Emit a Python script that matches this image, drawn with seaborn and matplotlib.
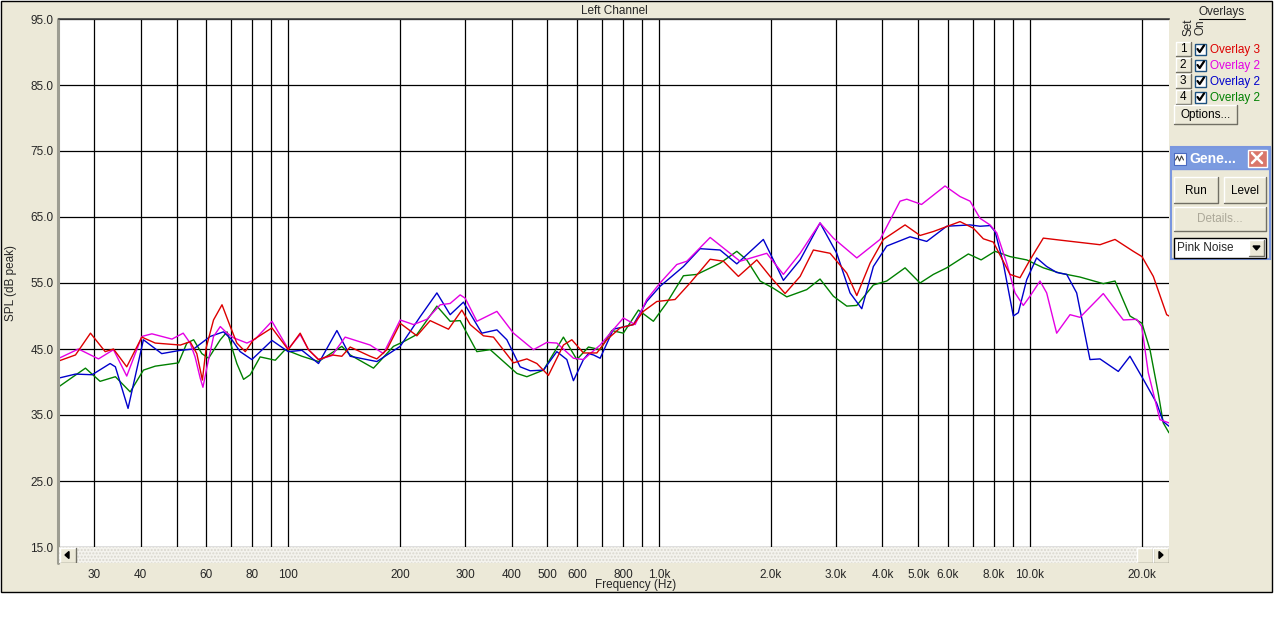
### Bibliotheken
import pandas as pd
import matplotlib
matplotlib.use("Agg")
import matplotlib.pyplot as plt
import matplotlib.patches as mpatches
from matplotlib.ticker import NullLocator
import seaborn as sns


red_freq = [24.1, 26.7, 29.3, 32.1, 33.8, 36.7, 40.3, 43.8, 51.2, 54.4,
            56.7, 58.7, 60.1, 62.9, 66.3, 69.8, 72.7, 76.6, 80.6, 90.4,
            100, 107.7, 113.4, 120.7, 131.2, 139.5, 146.9, 166.3, 173.4, 184.5,
            200.4, 222.3, 241.4, 270.5, 293.9, 309.5, 336.0, 357.6, 404.9, 440.0,
            468.2, 503.0, 552.1, 581.7, 625.2, 679.5, 722.8, 785.1, 852.6, 907,
            986, 1104, 1212, 1373, 1491, 1636, 1834, 1992, 2186, 2400,
            2606, 2891, 3206, 3412, 3705, 4024, 4604, 5052, 5488, 6475,
            7035, 7484, 7964, 8833, 9398, 10000, 10860, 12040, 15440, 16950,
            18990, 20040, 21500, 23360, 23700]
red_spl = [43.2, 44.1, 47.4, 44.6, 45.0, 42.3, 46.8, 45.9, 45.6, 46.1,
           44.3, 40.3, 45.2, 49.4, 51.7, 48.4, 45.9, 44.6, 46.4, 48.2,
           44.9, 47.4, 44.9, 43.4, 44.1, 43.9, 45.3, 43.9, 43.5, 44.9,
           48.9, 47.0, 49.3, 48.0, 50.9, 48.7, 47.0, 46.8, 42.9, 43.5,
           42.8, 41.0, 45.6, 46.4, 44.4, 44.4, 46.4, 48.2, 48.7, 50.7,
           52.2, 52.5, 55.0, 58.6, 58.3, 56.0, 58.5, 56.0, 53.4, 56.0,
           60.0, 59.5, 56.5, 53.1, 58.0, 61.6, 63.8, 62.2, 62.8, 64.3,
           63.3, 61.7, 61.2, 56.3, 55.8, 58.5, 61.8, 61.5, 60.8, 61.6,
           59.8, 59.0, 56.0, 50.2, 50.0]

magenta_freq = [24.1, 27.2, 30.8, 33.8, 36.7, 40.3, 42.9, 48.6, 52.1, 54.4,
                56.1, 57.9, 58.9, 60.4, 62.9, 65.6, 68.4, 71.2, 77.4, 81.5,
                90.4, 100, 107.7, 113.4, 120.7, 131.2, 142.4, 166.3, 180.6, 200.4,
                217.7, 236.5, 256.9, 273.3, 290.8, 300, 322.6, 365.3, 404.9, 458.4,
                498.1, 530.0, 587.5, 625.2, 693.4, 801, 861.6, 926, 1006, 1116,
                1188, 1373, 1653, 1951, 2163, 2400, 2716, 2950, 3412, 3942,
                4463, 4653, 5100, 5900, 6475, 6892, 7333, 7803, 8134, 8653,
                9112, 9592, 10000, 10640, 11090, 11800, 12820, 13640, 15760, 17850,
                19390, 20010, 20840, 22400, 23700]
magenta_spl = [43.6, 45.0, 43.5, 44.9, 40.9, 46.9, 47.3, 46.5, 47.4, 45.9,
               43.8, 40.6, 39.2, 42.3, 46.9, 48.4, 47.4, 46.7, 45.9, 46.5,
               49.2, 45.0, 47.2, 44.9, 43.4, 44.0, 46.8, 45.6, 44.3, 49.4,
               48.7, 49.5, 51.7, 51.9, 53.2, 52.7, 49.2, 50.7, 47.4, 44.9,
               46.0, 45.9, 43.6, 43.4, 45.6, 49.7, 48.7, 52.5, 55.0, 57.8,
               58.3, 61.9, 58.3, 59.5, 56.3, 59.5, 64.1, 61.8, 58.8, 61.6,
               67.4, 67.7, 66.9, 69.7, 68.1, 67.4, 64.8, 63.8, 62.6, 58.0,
               53.5, 51.6, 53.0, 55.3, 53.5, 47.4, 50.2, 49.8, 53.4, 49.4,
               49.5, 48.4, 41.4, 34.3, 33.8]

blue_freq = [24.1, 26.7, 29.6, 33.1, 34.2, 37.0, 40.7, 45.6, 51.2, 55.6,
             61.6, 66.9, 70.5, 74.2, 79.8, 90.4, 100, 108.9, 120.7, 135.3,
             146.9, 173.4, 200.4, 226.9, 251.7, 273.3, 296.8, 332.7, 365.3, 388.6,
             422.0, 449.1, 487.7, 530.0, 563.9, 587.5, 625.2, 645.0, 665.3, 693.4,
             753, 852.6, 926, 1006, 1163, 1290, 1460, 1620, 1910, 2163,
             2400, 2716, 3013, 3272, 3519, 3782, 4109, 4749, 5267, 5963,
             6892, 7333, 7803, 8049, 8472, 9016, 9300, 9797, 10420, 11090,
             11800, 12560, 13360, 14510, 15440, 17300, 18600, 20210, 21950, 22870,
             23700]
blue_spl = [40.6, 41.2, 41.1, 42.8, 42.3, 36.0, 46.4, 44.3, 44.8, 45.0,
            46.9, 47.6, 46.4, 44.6, 43.4, 46.3, 44.6, 44.8, 42.8, 47.8,
            43.9, 43.1, 45.4, 49.9, 53.5, 50.2, 52.1, 47.4, 47.9, 46.4,
            42.3, 41.7, 41.8, 44.6, 43.4, 40.2, 43.4, 44.3, 44.1, 43.6,
            48.0, 48.7, 52.2, 54.5, 57.5, 60.2, 60.0, 57.9, 61.6, 55.4,
            58.5, 64.1, 59.5, 53.5, 51.1, 57.5, 60.6, 62.0, 61.3, 63.6,
            63.8, 63.6, 63.7, 62.8, 58.0, 50.0, 50.5, 55.5, 58.8, 57.5,
            56.6, 56.3, 53.5, 43.4, 43.5, 41.6, 43.9, 40.4, 36.8, 34.0,
            33.3]

green_freq = [24.1, 28.4, 31.1, 34.2, 37.5, 40.7, 43.8, 50.6, 53.3, 55.6,
              58.5, 61.0, 65.6, 68.4, 72.7, 75.8, 79.0, 84.0, 92.3, 98.1,
              108.9, 120.7, 139.5, 146.9, 169.8, 192.2, 204.5, 222.3, 251.7, 273.3,
              290.8, 322.6, 350.4, 413.5, 440.0, 487.7, 552.1, 600.0, 645.0, 693.4,
              745.5, 801, 879.6, 965, 1049, 1163, 1264, 1460, 1620, 1723,
              1872, 2033, 2209, 2501, 2716, 2950, 3206, 3412, 3782, 4109,
              4604, 5052, 5488, 5963, 6820, 7383, 8049, 8833, 9797, 10860,
              12040, 13640, 15760, 16950, 18600, 20040, 21060, 22170, 22870, 23700]
green_spl = [39.3, 42.1, 40.1, 40.8, 38.5, 41.8, 42.4, 42.9, 45.9, 46.4,
             44.3, 43.6, 46.4, 47.6, 42.8, 40.4, 41.1, 43.8, 43.3, 44.9,
             43.9, 43.1, 45.4, 44.1, 42.1, 45.4, 46.1, 47.2, 51.5, 49.2,
             49.3, 44.6, 44.9, 41.3, 40.8, 41.8, 46.8, 43.4, 45.3, 44.9,
             47.8, 47.4, 50.9, 49.2, 52.0, 56.1, 56.3, 58.0, 59.8, 58.5,
             55.3, 54.2, 52.9, 54.0, 55.6, 53.0, 51.5, 51.6, 54.7, 55.3,
             57.3, 55.0, 56.3, 57.3, 59.4, 58.5, 59.8, 59.0, 58.5, 57.3,
             56.5, 55.9, 54.9, 55.3, 50.0, 48.9, 44.9, 38.3, 33.8, 32.3]

set_names = ["1", "2", "3", "4"]
overlay_labels = ["Overlay 3", "Overlay 2", "Overlay 2", "Overlay 2"]
overlay_colors = ["#DD0000", "#E400E4", "#0000CC", "#008000"]

grid_freqs = [30, 40, 50, 60, 70, 80, 90, 100, 200, 300, 400, 500, 600, 700, 800, 900,
              1000, 2000, 3000, 4000, 5000, 6000, 7000, 8000, 9000, 10000, 20000]
grid_labels = ["30", "40", "", "60", "", "80", "", "100", "200", "300", "400", "500", "600",
               "", "800", "", "1.0k", "2.0k", "3.0k", "4.0k", "5.0k", "6.0k", "", "8.0k",
               "", "10.0k", "20.0k"]
spl_ticks = [15, 25, 35, 45, 55, 65, 75, 85, 95]


### Layout-Parameter (Pixel)
W, H = 1274, 637
BEIGE = "#ECE9D8"
TXT = 8.5

sns.set_style("white")
plt.rcParams["font.family"] = ["Liberation Sans", "DejaVu Sans"]
plt.rcParams["font.size"] = TXT


def px_box(x0, y0, x1, y1):
    """Pixelrechteck (oben links Ursprung) -> Figure-Koordinaten"""
    return [x0 / W, 1 - y1 / H, (x1 - x0) / W, (y1 - y0) / H]


def button(axis, x0, y0, x1, y1, text=None, color="black", face=BEIGE, fs=TXT):
    """Zeichnet einen einfachen 3D-Knopf im Windows-Stil"""
    axis.add_patch(mpatches.Rectangle((x0, y0), x1 - x0, y1 - y0, facecolor=face,
                                      edgecolor="none", zorder=3))
    axis.plot([x0, x0, x1], [y1, y0, y0], color="white", lw=1, zorder=4)
    axis.plot([x0, x1, x1], [y1, y1, y0], color="#716F64", lw=1, zorder=4)
    if text is not None:
        axis.text((x0 + x1) / 2, (y0 + y1) / 2 + 0.5, text, ha="center", va="center",
                  color=color, fontsize=fs, zorder=5)


fig = plt.figure(figsize=(W / 100, H / 100), dpi=100, facecolor="white")

# Hintergrund / Fensterrahmen
bg = fig.add_axes([0, 0, 1, 1], zorder=0)
bg.set_xlim(0, W)
bg.set_ylim(H, 0)
bg.axis("off")
bg.add_patch(mpatches.Rectangle((0.5, 0.5), 1271, 591.5, facecolor=BEIGE,
                                edgecolor="black", lw=1))
bg.plot([58, 58], [19, 563], color="#9D9D92", lw=2.2, zorder=2)


### Hauptdiagramm
ax = fig.add_axes(px_box(59, 19, 1169, 547), zorder=2)
ax.set_facecolor("white")
ax.set_xscale("log")

frames = []
for name, f, s in zip(set_names, [red_freq, magenta_freq, blue_freq, green_freq],
                      [red_spl, magenta_spl, blue_spl, green_spl]):
    frames.append(pd.DataFrame({"freq": f, "spl": s, "set": name}))
df = pd.concat(frames, ignore_index=True)

sns.lineplot(data=df, x="freq", y="spl", hue="set", hue_order=["4", "3", "2", "1"],
             palette=dict(zip(set_names, overlay_colors)), estimator=None,
             linewidth=1.0, legend=False, ax=ax)

ax.set_xlim(24.1, 23700)
ax.set_ylim(15, 95)
ax.set_xticks(grid_freqs, grid_labels)
ax.xaxis.set_minor_locator(NullLocator())
ax.set_yticks(spl_ticks, [f"{v:.1f}" for v in spl_ticks])
ax.grid(True, which="major", color="black", linewidth=0.9)
ax.tick_params(axis="x", direction="out", length=15, width=0.8, pad=1.2,
               color="black", labelsize=TXT)
ax.tick_params(axis="y", length=0, pad=4, labelsize=TXT)

for side in ["right", "bottom"]:
    ax.spines[side].set_visible(False)
ax.spines["left"].set_color("#9D9D92")
ax.spines["left"].set_linewidth(1.5)
ax.spines["top"].set_color("#404040")
ax.spines["top"].set_linewidth(1.2)

ax.set_title("Left Channel", fontsize=TXT, pad=3.5)
ax.set_ylabel("SPL (dB peak)", fontsize=TXT)
ax.yaxis.set_label_coords((17 - 59) / 1110, 0.5)
ax.set_xlabel("Frequency (Hz)", fontsize=TXT)
ax.xaxis.set_label_coords((636 - 59) / 1110, -(579 - 547) / 528)


### Scrollbalken unter dem Diagramm
sb = fig.add_axes(px_box(59, 547, 1169, 563), zorder=3)
sb.set_xlim(59, 1169)
sb.set_ylim(563, 547)
sb.axis("off")
sb.add_patch(mpatches.Rectangle((59, 547), 1110, 16, facecolor="#F4F3EE",
                                edgecolor="#D9D7CE", lw=0, hatch="....."))
button(sb, 59.5, 547.5, 76, 562.5)
sb.add_patch(mpatches.Polygon([(65, 555), (69, 551.5), (69, 558.5)], color="black", zorder=6))
button(sb, 1137, 547.5, 1152.5, 562.5)
button(sb, 1152.5, 547.5, 1168.5, 562.5)
sb.add_patch(mpatches.Polygon([(1163, 555), (1159, 551.5), (1159, 558.5)], color="black", zorder=6))


### Overlay-Panel rechts
bg.text(1222, 12, "Overlays", ha="center", va="center", fontsize=TXT)
bg.plot([1199, 1245], [18.5, 18.5], color="black", lw=0.8)
bg.text(1189, 27, "Set", ha="center", va="center", rotation=90, fontsize=TXT)
bg.text(1200, 27, "On", ha="center", va="center", rotation=90, fontsize=TXT)

for i, (name, label, color) in enumerate(zip(set_names, overlay_labels, overlay_colors)):
    yc = 49 + 16 * i
    button(bg, 1175.5, yc - 7, 1190.5, yc + 7, name)
    bg.add_patch(mpatches.Rectangle((1195, yc - 5.5), 11, 11, facecolor="white",
                                    edgecolor="#1C5180", lw=1, zorder=3))
    bg.plot([1197.5, 1199.7, 1204], [yc, yc + 3, yc - 3.5], color="black", lw=1.6, zorder=4)
    bg.text(1210, yc + 0.5, label, ha="left", va="center", color=color, fontsize=TXT)

button(bg, 1174, 105, 1237, 124, "Options...")

# Generator-Fenster
bg.add_patch(mpatches.Rectangle((1170.5, 147), 99.5, 112, facecolor=BEIGE,
                                edgecolor="#7A96DF", lw=1.5, zorder=2))
bg.add_patch(mpatches.Rectangle((1170.5, 147), 99.5, 22, facecolor="#7B9BE0",
                                edgecolor="#7A96DF", lw=1, zorder=3))
bg.add_patch(mpatches.Rectangle((1174, 153), 12, 12, facecolor="white",
                                edgecolor="#4A6AC0", lw=0.8, zorder=4))
bg.plot([1175.5, 1177.5, 1179.5, 1181.5, 1183.5], [160, 156, 161, 156, 160],
        color="#404040", lw=0.8, zorder=5)
bg.text(1189, 159, "Gene...", ha="left", va="center", color="white",
        fontsize=10, fontweight="bold", zorder=5)
bg.add_patch(mpatches.Rectangle((1247.5, 149.5), 19, 17, facecolor="#D9776B",
                                edgecolor="white", lw=1, zorder=4))
bg.plot([1252, 1262], [153, 163], color="white", lw=1.8, zorder=5)
bg.plot([1252, 1262], [163, 153], color="white", lw=1.8, zorder=5)

button(bg, 1174, 177, 1218, 203, "Run")
button(bg, 1224, 177, 1266, 203, "Level")
button(bg, 1174, 207, 1266, 231, "Details...", color="#ACA899")
bg.add_patch(mpatches.Rectangle((1173.5, 237.5), 92, 20, facecolor="white",
                                edgecolor="black", lw=1, zorder=3))
bg.text(1177, 248, "Pink Noise", ha="left", va="center", fontsize=TXT, zorder=4)
button(bg, 1249, 239.5, 1264, 256)
bg.add_patch(mpatches.Polygon([(1253, 246), (1260, 246), (1256.5, 250)], color="black", zorder=6))

fig.savefig("out.png", dpi=100, facecolor="white")
